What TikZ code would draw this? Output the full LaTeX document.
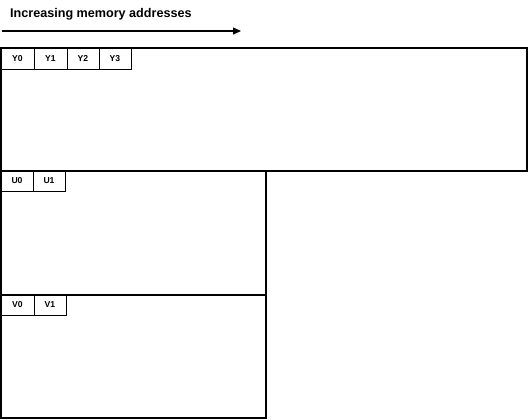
\documentclass[tikz,border=0pt]{standalone}
\usepackage{fontspec}
\setmainfont{Liberation Sans}
\usetikzlibrary{arrows.meta}
\begin{document}
\begin{tikzpicture}[x=1pt,y=-1pt,
  region/.style={draw=black,line width=1.8pt,rectangle,anchor=north west,inner sep=0pt,outer sep=0pt},
  cell/.style={draw=black,line width=0.9pt,rectangle,anchor=north west,inner sep=0pt,outer sep=0pt,
    minimum height=21pt,font=\bfseries\fontsize{8.6}{9}\selectfont},
  title/.style={anchor=west,inner sep=0pt,font=\bfseries\fontsize{12.6}{14}\selectfont}
]
\useasboundingbox (0,0) rectangle (528,420);
\node[title] (t) at (10,14) {Increasing memory addresses};
\coordinate (a0) at (2,31);
\coordinate (a1) at (241,31);
\draw[line width=1.2pt,-{Triangle[length=8pt,width=7pt]}] (a0) -- (a1);
% regions
\node[region,minimum width=526pt,minimum height=123pt] (Y) at (1,48) {};
\node[region,minimum width=265pt,minimum height=124pt] (U) at (1,171) {};
\node[region,minimum width=265pt,minimum height=123pt] (V) at (1,295) {};
% Y cells
\node[cell,minimum width=33pt] (y0) at (1,48) {Y0};
\node[cell,minimum width=33pt] (y1) at (34,48) {Y1};
\node[cell,minimum width=32pt] (y2) at (67,48) {Y2};
\node[cell,minimum width=32pt] (y3) at (99,48) {Y3};
% U cells
\node[cell,minimum width=32pt,minimum height=20pt] (u0) at (1,171) {U0};
\node[cell,minimum width=32pt,minimum height=20pt] (u1) at (33,171) {U1};
% V cells
\node[cell,minimum width=33pt,minimum height=20pt] (v0) at (1,295) {V0};
\node[cell,minimum width=32pt,minimum height=20pt] (v1) at (34,295) {V1};
\end{tikzpicture}
\end{document}
